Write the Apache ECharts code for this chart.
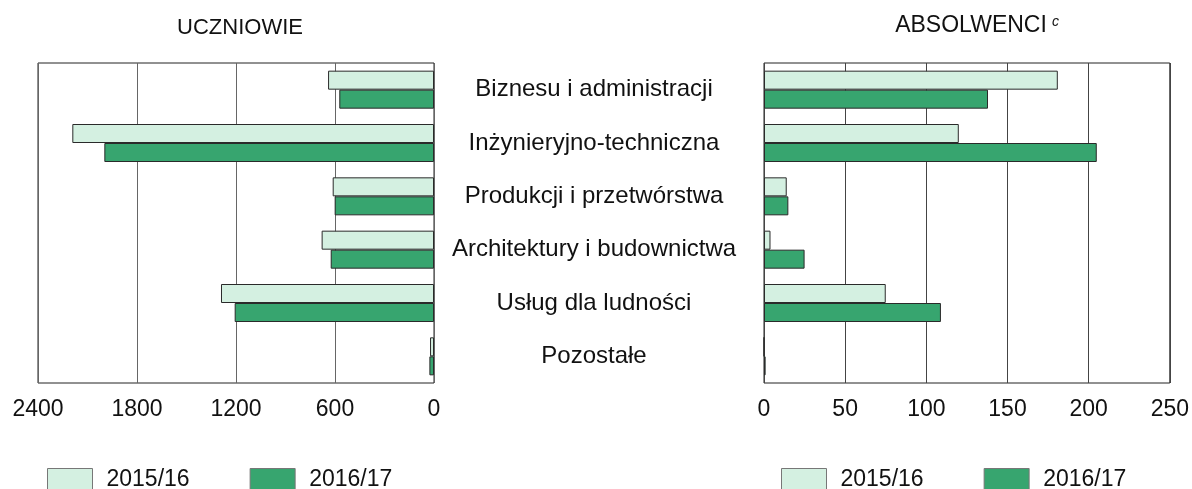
<!DOCTYPE html>
<html>
<head>
<meta charset="utf-8">
<script src="https://cdn.jsdelivr.net/npm/echarts@6/dist/echarts.min.js"></script>
<style>
html,body{margin:0;padding:0;background:#fff;}
#main{width:1192px;height:489px;}
</style>
</head>
<body>
<div id="main"></div>
<script>
var categories = ['Biznesu i administracji','Inżynieryjno-techniczna','Produkcji i przetwórstwa','Architektury i budownictwa','Usług dla ludności','Pozostałe'];
var seriesNames = ['2015/16','2016/17'];
var pupils2015 = [642, 2192, 614, 681, 1291, 24];
var pupils2016 = [574, 1998, 602, 626, 1208, 28];
var grads2015 = [181, 120, 14, 4, 75, 0];
var grads2016 = [138, 205, 15, 25, 109, 1];
var leftTicks = {min: 0, max: 2400, interval: 600};
var rightTicks = {min: 0, max: 250, interval: 50};

var FONT = "'Liberation Sans', Arial, sans-serif";
var LIGHT = '#d4f0e1';
var DARK = '#37a56f';
var chart = echarts.init(document.getElementById('main'));

function barSeries(name, data, xi, color) {
  return {
    type: 'bar', name: name, data: data, xAxisIndex: xi, yAxisIndex: xi,
    barWidth: 19, barGap: '0%',
    itemStyle: {color: color, borderColor: '#2a2a2a', borderWidth: 1},
    animation: false, silent: true
  };
}
function legendAt(left) {
  return {
    left: left, top: 468, padding: 0, itemWidth: 45, itemHeight: 22, itemGap: 60,
    icon: 'rect',
    data: seriesNames, selectedMode: false,
    itemStyle: {borderColor: '#777', borderWidth: 1},
    textStyle: {fontFamily: FONT, fontSize: 23, color: '#111', padding: [0,0,0,9]}
  };
}
var option = {
  backgroundColor: '#fff',
  animation: false,
  graphic: [
    {type: 'text', style: {x: 240, y: 28, text: 'UCZNIOWIE', textAlign: 'center', textVerticalAlign: 'middle', font: '22px ' + FONT, fill: '#111'}},
    {type: 'text', style: {x: 971, y: 26, text: 'ABSOLWENCI', textAlign: 'center', textVerticalAlign: 'middle', font: '23px ' + FONT, fill: '#111'}},
    {type: 'text', style: {x: 1052, y: 22, text: 'c', textAlign: 'left', textVerticalAlign: 'middle', font: 'italic 14px ' + FONT, fill: '#111'}}
  ],
  legend: [legendAt(47), legendAt(781)],
  grid: [
    {left: 38, top: 63, width: 396, height: 320, show: true, borderColor: '#222', borderWidth: 1, backgroundColor: 'transparent'},
    {left: 764, top: 63, width: 407, height: 320, show: true, borderColor: '#222', borderWidth: 1, backgroundColor: 'transparent'}
  ],
  xAxis: [
    {type: 'value', gridIndex: 0, inverse: true, min: leftTicks.min, max: leftTicks.max, interval: leftTicks.interval,
     axisLine: {show: false}, axisTick: {show: false},
     splitLine: {lineStyle: {color: '#666', width: 1}},
     axisLabel: {fontFamily: FONT, fontSize: 23, color: '#111', margin: 15, formatter: function(v){return String(v);}}},
    {type: 'value', gridIndex: 1, min: rightTicks.min, max: rightTicks.max, interval: rightTicks.interval,
     axisLine: {show: false}, axisTick: {show: false},
     splitLine: {lineStyle: {color: '#444', width: 1}},
     axisLabel: {fontFamily: FONT, fontSize: 23, color: '#111', margin: 15, formatter: function(v){return String(v);}}}
  ],
  yAxis: [
    {type: 'category', gridIndex: 0, inverse: true, data: categories, position: 'right',
     axisLine: {show: false}, axisTick: {show: false}, splitLine: {show: false},
     axisLabel: {fontFamily: FONT, fontSize: 24, color: '#111', align: 'center', margin: 160}},
    {type: 'category', gridIndex: 1, inverse: true, data: categories,
     axisLine: {show: false}, axisTick: {show: false}, splitLine: {show: false},
     axisLabel: {show: false}}
  ],
  series: [
    barSeries(seriesNames[0], pupils2015, 0, LIGHT),
    barSeries(seriesNames[1], pupils2016, 0, DARK),
    barSeries(seriesNames[0], grads2015, 1, LIGHT),
    barSeries(seriesNames[1], grads2016, 1, DARK)
  ]
};
chart.setOption(option);
</script>
</body>
</html>
